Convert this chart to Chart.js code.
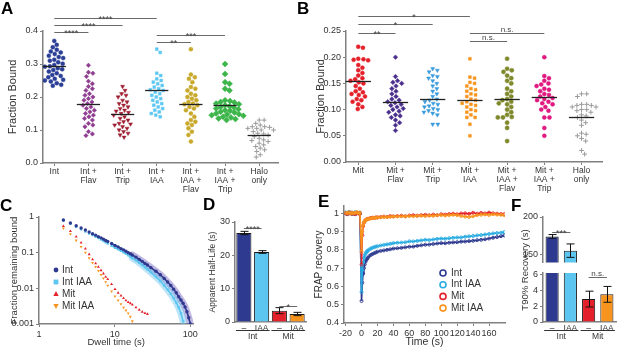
<!DOCTYPE html>
<html><head><meta charset="utf-8">
<script src="https://cdn.jsdelivr.net/npm/chart.js@4/dist/chart.umd.min.js"></script>
<style>
body{margin:0;background:#fff;}
#fig{position:relative;width:617px;height:348px;overflow:hidden;font-family:'Liberation Sans',Arial,sans-serif;}
canvas{position:absolute;}
.lab{position:absolute;font-weight:bold;font-size:17px;color:#000;line-height:17px;}
.ytit{position:absolute;width:110px;height:12px;line-height:12px;text-align:center;font-size:9.5px;color:#333;transform:rotate(-90deg);}
</style></head><body>
<div id="fig">
<canvas id="cA" width="300" height="200" style="left:0;top:0"></canvas>
<canvas id="cB" width="317" height="200" style="left:300px;top:0"></canvas>
<canvas id="cC" width="200" height="153" style="left:0;top:195px"></canvas>
<canvas id="cD" width="110" height="153" style="left:200px;top:195px"></canvas>
<canvas id="cE" width="200" height="153" style="left:310px;top:195px"></canvas>
<canvas id="cF1" width="112" height="75" style="left:505px;top:195px"></canvas>
<canvas id="cF2" width="112" height="83" style="left:505px;top:265px"></canvas>
<div class="lab" style="left:1px;top:0px">A</div>
<div class="lab" style="left:297px;top:0px">B</div>
<div class="lab" style="left:0px;top:197px">C</div>
<div class="lab" style="left:203px;top:196px">D</div>
<div class="lab" style="left:318px;top:193px">E</div>
<div class="lab" style="left:511px;top:197px">F</div>
<div class="ytit" style="left:470px;top:264px">T90% Recovery (s)</div>
</div>
<script>
// ---- panel A : fraction bound, Int ----
const catsA = ['Int', ['Int +','Flav'], ['Int +','Trip'], ['Int +','IAA'], ['Int +','IAA +','Flav'], ['Int +','IAA +','Trip'], ['Halo','only']];
const aInt = [0.37,0.358,0.351,0.343,0.338,0.335,0.33,0.325,0.321,0.318,0.313,0.31,0.305,0.301,0.297,0.293,0.292,0.287,0.284,0.282,0.277,0.272,0.267,0.264,0.26,0.255,0.252,0.25,0.247,0.242,0.237,0.234];
const aFlav = [0.296,0.275,0.272,0.262,0.248,0.24,0.232,0.225,0.22,0.21,0.205,0.2,0.195,0.19,0.185,0.18,0.175,0.17,0.165,0.16,0.155,0.15,0.145,0.14,0.135,0.13,0.12,0.115,0.11,0.095,0.088,0.083];
const aTrip = [0.232,0.22,0.21,0.205,0.2,0.19,0.185,0.18,0.175,0.17,0.165,0.16,0.157,0.153,0.15,0.145,0.14,0.135,0.13,0.125,0.12,0.118,0.115,0.11,0.105,0.1,0.095,0.09,0.085,0.078];
const aIAA = [0.345,0.335,0.272,0.265,0.255,0.25,0.245,0.24,0.235,0.23,0.225,0.222,0.22,0.215,0.21,0.205,0.2,0.195,0.19,0.185,0.18,0.175,0.17,0.165,0.16,0.155,0.15,0.145,0.14];
const aIAAFlav = [0.345,0.268,0.26,0.255,0.245,0.23,0.225,0.22,0.21,0.205,0.2,0.195,0.19,0.185,0.18,0.178,0.175,0.17,0.165,0.16,0.15,0.14,0.13,0.125,0.12,0.115,0.105,0.095,0.085,0.065];
const aIAATrip = [0.30,0.27,0.245,0.24,0.225,0.22,0.19,0.188,0.185,0.183,0.18,0.178,0.175,0.172,0.17,0.168,0.165,0.163,0.16,0.158,0.155,0.153,0.15,0.148,0.147,0.145,0.143,0.14,0.138,0.135,0.133,0.13];
const aHalo = [0.13,0.13,0.12,0.115,0.11,0.11,0.108,0.105,0.105,0.1,0.1,0.095,0.09,0.088,0.085,0.08,0.075,0.07,0.068,0.065,0.06,0.055,0.05,0.045,0.04,0.035,0.025,0.018];
const meansA = [0.293,0.18,0.15,0.22,0.18,0.175,0.086];
const sigA = [[0,3,'****'],[0,2,'****'],[0,1,'****'],[3,5,'***'],[3,4,'**']];

// ---- panel B : fraction bound, Mit ----
const catsB = ['Mit', ['Mit +','Flav'], ['Mit +','Trip'], ['Mit +','IAA'], ['Mit +','IAA +','Flav'], ['Mit +','IAA +','Trip'], ['Halo','only']];
const bMit = [0.22,0.218,0.197,0.196,0.195,0.194,0.185,0.18,0.175,0.17,0.165,0.16,0.158,0.155,0.152,0.15,0.145,0.14,0.135,0.133,0.13,0.128,0.125,0.12,0.118,0.115,0.11,0.105,0.101];
const bFlav = [0.20,0.163,0.155,0.152,0.15,0.145,0.14,0.135,0.13,0.125,0.12,0.118,0.115,0.113,0.11,0.108,0.105,0.102,0.1,0.097,0.095,0.09,0.088,0.085,0.08,0.075,0.07,0.06];
const bTrip = [0.178,0.175,0.172,0.165,0.163,0.16,0.155,0.15,0.145,0.14,0.135,0.13,0.125,0.12,0.118,0.115,0.112,0.11,0.107,0.105,0.102,0.1,0.098,0.095,0.093,0.09,0.072,0.072];
const bIAA = [0.197,0.162,0.16,0.152,0.15,0.145,0.14,0.138,0.135,0.13,0.128,0.125,0.12,0.118,0.115,0.112,0.11,0.108,0.105,0.1,0.098,0.095,0.09,0.085,0.085,0.072,0.05];
const bIAAFlav = [0.197,0.178,0.175,0.172,0.165,0.16,0.155,0.15,0.14,0.135,0.13,0.125,0.12,0.118,0.115,0.112,0.11,0.105,0.1,0.095,0.09,0.086,0.085,0.085,0.075,0.065,0.04];
const bIAATrip = [0.20,0.164,0.16,0.155,0.15,0.148,0.145,0.14,0.138,0.135,0.13,0.128,0.125,0.122,0.12,0.118,0.115,0.112,0.11,0.105,0.1,0.098,0.085,0.085,0.065,0.05];
const bHalo = [0.13,0.13,0.125,0.11,0.11,0.108,0.108,0.105,0.105,0.1,0.1,0.098,0.095,0.09,0.088,0.085,0.08,0.075,0.07,0.055,0.053,0.05,0.045,0.04,0.022,0.015];
const meansB = [0.154,0.115,0.121,0.118,0.121,0.125,0.085];
const sigB = [[0,3,'*'],[0,2,'*'],[0,1,'**'],[3,5,'n.s.'],[3,4,'n.s.']];

// ---- panel C : survival curves ----
const tC = [2.1,2.6,3.1,3.6,4.1,4.6,5.1,5.6,6.1,6.6,7.1,7.6,8.1,9.1,10.1,11.1,12.1,13.1,14.1,15.1,16.1,17.1,19.1,21.1,23.1,25.1,27.1,30.1,35.1,40.1,45.1,50.1,55.1,60.1,65.1,70.1,75.1,80.1,85.1,90.1,95.1,100.1];
const cInt = [0.82,0.68,0.57,0.49,0.43,0.38,0.34,0.31,0.28,0.26,0.24,0.22,0.205,0.18,0.16,0.145,0.13,0.12,0.11,0.1,0.093,0.086,0.075,0.065,0.057,0.05,0.045,0.038,0.03,0.024,0.019,0.015,0.012,0.0095,0.0075,0.0058,0.0047,0.0038,0.003,0.0022,0.0015,0.001];
const cIntIAA = [0.78,0.64,0.53,0.45,0.39,0.345,0.31,0.28,0.255,0.232,0.212,0.195,0.18,0.157,0.138,0.124,0.112,0.102,0.093,0.085,0.078,0.071,0.061,0.052,0.045,0.039,0.034,0.028,0.021,0.016,0.012,0.0092,0.007,0.0053,0.004,0.0029,0.002,0.0012];
const cMit = [0.55,0.40,0.28,0.19,0.13,0.09,0.065,0.05,0.04,0.032,0.026,0.021,0.018,0.013,0.0095,0.0075,0.0062,0.0053,0.0046,0.0041,0.0038,0.0035,0.0029,0.0025,0.0022,0.002,0.0019];
const cMitIAA = [0.48,0.33,0.22,0.145,0.1,0.07,0.052,0.04,0.031,0.024,0.019,0.015,0.012,0.0082,0.006,0.0046,0.0036,0.0029,0.0024,0.002,0.0016,0.0012];

// ---- panel D : apparent half-life ----
const dLabels = ['\u2013','IAA','\u2013','IAA'];
const dVals = [26.7,21.0,3.4,2.4];
const dErr = [0.5,0.4,0.9,0.5];

// ---- panel E : FRAP ----
const tE = [-20,-18,-16,-14,-12,-10,-8,-6,-4,-2,0,1,2,3,4,5,6,7,8,10,12,14,16,18,20,24,28,32,36,40,45,50,55,60,65,70,75,80,85,90,95,100,105,110,115,120,125,130,135,140,145,150,155,160,165,170,175,179];
const eInt = [1.0,0.995,1.0,1.003,0.997,1.0,0.995,1.002,1.0,0.997,0.52,0.62,0.67,0.70,0.72,0.735,0.745,0.752,0.757,0.767,0.773,0.778,0.782,0.786,0.79,0.794,0.797,0.80,0.803,0.807,0.809,0.811,0.814,0.817,0.818,0.822,0.825,0.828,0.829,0.832,0.835,0.837,0.836,0.839,0.841,0.842,0.845,0.846,0.848,0.85,0.853,0.855,0.858,0.862,0.866,0.87,0.875,0.879];
const eIntIAA = [1.005,1.0,1.008,1.0,1.004,0.998,1.006,1.002,1.0,1.004,0.57,0.69,0.73,0.755,0.77,0.78,0.787,0.792,0.797,0.803,0.808,0.812,0.815,0.818,0.82,0.824,0.827,0.83,0.833,0.837,0.839,0.84,0.842,0.847,0.846,0.849,0.852,0.855,0.854,0.857,0.86,0.862,0.861,0.864,0.866,0.868,0.868,0.872,0.874,0.876,0.879,0.881,0.884,0.887,0.89,0.892,0.894,0.897];
const eMit = [1.0,0.997,1.0,1.003,0.998,1.0,0.996,1.0,1.002,0.998,0.72,0.88,0.93,0.948,0.956,0.962,0.966,0.968,0.97,0.972,0.974,0.976,0.975,0.977,0.978,0.98,0.982,0.98,0.985,0.983,0.985,0.987,0.984,0.988,0.99,0.987,0.99,0.992,0.989,0.993,0.99,0.995,0.993,0.996,0.998,0.995,0.999,1.0,0.997,1.003,0.998,1.002,0.999,1.004,1.0,0.998,0.996,0.995];
const eMitIAA = [1.003,1.0,1.006,0.998,1.004,1.0,1.002,1.007,0.999,1.004,0.79,0.90,0.935,0.95,0.957,0.962,0.965,0.967,0.969,0.971,0.972,0.974,0.975,0.976,0.977,0.978,0.98,0.979,0.981,0.982,0.983,0.984,0.983,0.985,0.984,0.986,0.987,0.985,0.988,0.986,0.989,0.99,0.988,0.99,0.992,0.99,0.985,0.982,0.98,0.984,0.99,0.992,0.994,0.991,0.995,0.993,0.992,0.99];

// ---- panel F : T90 recovery ----
const fLabels = ['\u2013','IAA','\u2013','IAA'];
const fVals = [174,155,2.9,3.5];
const fErr = [2.5,9,1.0,1.0];

const FONT = "'Liberation Sans', Arial, sans-serif";
const AX = '#808080', TX = '#333';
const NAVY = '#2e3a8f', SKY = '#5cc6f0', RED = '#e4212a', ORANGE = '#f7941d';
Chart.defaults.font.family = FONT;
Chart.defaults.color = TX;

function axis(kind, size, o) {
  const base = {
    grid: {drawOnChartArea:false, drawTicks:true, tickLength:3, color:AX, lineWidth:1},
    border: {display:true, color:AX, width:1.5},
    ticks: {color:TX, font:{size:9}, padding:2, autoSkip:false, maxRotation:0}
  };
  const s = Object.assign({}, base, o);
  s.ticks = Object.assign({}, base.ticks, o.ticks || {});
  s.grid = Object.assign({}, base.grid, o.grid || {});
  if (o.display !== false)
    s.afterFit = kind === 'y' ? (sc => { sc.width = size; }) : (sc => { sc.height = size; });
  return s;
}
function fixTicks(vals) { return sc => { sc.ticks = vals.map(v => ({value:v})); }; }

// spread dots of one column so they do not overlap
function swarm(vals, pxY, d) {
  const placed = [], offs = new Array(vals.length);
  const order = vals.map((v, i) => i).sort((a, b) => vals[b] - vals[a]);
  for (const i of order) {
    const y = vals[i] * pxY;
    for (let k = 0; k < 400; k++) {
      const x = (k % 2 ? 1 : -1) * Math.ceil(k / 2) * 0.5;
      if (placed.every(p => (x - p.x) ** 2 + (y - p.y) ** 2 >= d * d)) {
        placed.push({x, y}); offs[i] = x; break;
      }
    }
  }
  return offs;
}

// mean lines
const meanPlugin = {
  id: 'means',
  afterDatasetsDraw(chart, args, o) {
    if (!o.values) return;
    const {ctx, scales:{x, y}} = chart;
    ctx.save(); ctx.strokeStyle = '#222'; ctx.lineWidth = 1.3;
    o.values.forEach((m, i) => {
      const yy = Math.round(y.getPixelForValue(m)) + 0.5;
      ctx.beginPath(); ctx.moveTo(x.getPixelForValue(i - o.half), yy); ctx.lineTo(x.getPixelForValue(i + o.half), yy); ctx.stroke();
    });
    ctx.restore();
  }
};
// significance brackets
const sigPlugin = {
  id: 'sig',
  afterDraw(chart, args, o) {
    if (!o.bars) return;
    const {ctx, scales:{x}} = chart;
    ctx.save(); ctx.strokeStyle = '#6a6a6a'; ctx.fillStyle = '#444'; ctx.lineWidth = 1;
    ctx.textAlign = 'center'; ctx.textBaseline = 'alphabetic';
    o.bars.forEach((b, i) => {
      const yy = o.levels[i] + 0.5, x0 = x.getPixelForValue(b[0]), x1 = x.getPixelForValue(b[1]);
      ctx.beginPath(); ctx.moveTo(x0, yy); ctx.lineTo(x1, yy); ctx.stroke();
      const star = b[2].indexOf('*') === 0;
      ctx.font = (star ? '9px ' : '8px ') + FONT;
      ctx.fillText(b[2], (x0 + x1) / 2, star ? yy + 3.5 : yy - 2);
    });
    ctx.restore();
  }
};
// error bars for bar charts
const errPlugin = {
  id: 'err',
  afterDatasetsDraw(chart, args, o) {
    if (!o.values) return;
    const {ctx, chartArea:a, scales:{y}} = chart;
    const meta = chart.getDatasetMeta(0), vals = chart.data.datasets[0].data;
    ctx.save(); ctx.beginPath(); ctx.rect(a.left, a.top, a.right - a.left, a.bottom - a.top); ctx.clip();
    ctx.strokeStyle = '#111'; ctx.lineWidth = 1;
    meta.data.forEach((bar, i) => {
      const e = o.values[i], y0 = y.getPixelForValue(vals[i] - e), y1 = y.getPixelForValue(vals[i] + e), cx = Math.round(bar.x) + 0.5;
      ctx.beginPath();
      ctx.moveTo(cx, y0); ctx.lineTo(cx, y1);
      ctx.moveTo(cx - 4, y0); ctx.lineTo(cx + 4, y0);
      ctx.moveTo(cx - 4, y1); ctx.lineTo(cx + 4, y1);
      ctx.stroke();
    });
    ctx.restore();
  }
};
// group labels under the x axis (Int / Mit)
const groupPlugin = {
  id: 'groups',
  afterDraw(chart, args, o) {
    if (!o.groups) return;
    const {ctx, scales:{x}} = chart;
    ctx.save(); ctx.strokeStyle = '#333'; ctx.fillStyle = TX; ctx.lineWidth = 1;
    ctx.font = '8.5px ' + FONT; ctx.textAlign = 'center'; ctx.textBaseline = 'middle';
    o.groups.forEach(g => {
      const x0 = x.getPixelForValue(g[0]) - o.ext, x1 = x.getPixelForValue(g[1]) + o.ext;
      ctx.beginPath(); ctx.moveTo(x0, o.y + 0.5); ctx.lineTo(x1, o.y + 0.5); ctx.stroke();
      ctx.fillText(g[2], (x0 + x1) / 2, o.y + 7);
    });
    ctx.restore();
  }
};
function marker(ctx, style, x, y, r) {
  ctx.beginPath();
  if (style === 'circle') ctx.arc(x, y, r, 0, Math.PI * 2);
  else if (style === 'rect') ctx.rect(x - r, y - r, 2 * r, 2 * r);
  else if (style === 'tri') { ctx.moveTo(x, y - r * 1.2); ctx.lineTo(x + r * 1.1, y + r * 0.8); ctx.lineTo(x - r * 1.1, y + r * 0.8); ctx.closePath(); }
  else { ctx.moveTo(x, y + r * 1.2); ctx.lineTo(x + r * 1.1, y - r * 0.8); ctx.lineTo(x - r * 1.1, y - r * 0.8); ctx.closePath(); }
}
// legend drawn inside the plot
const boxLegend = {
  id: 'boxLegend',
  afterDraw(chart, args, o) {
    if (!o.items) return;
    const ctx = chart.ctx;
    ctx.save(); ctx.font = '10px ' + FONT; ctx.textBaseline = 'middle';
    o.items.forEach((it, i) => {
      const y = o.y + i * o.dy;
      marker(ctx, it[2], o.x, y, o.r);
      if (o.open) { ctx.strokeStyle = it[1]; ctx.lineWidth = 1.6; ctx.stroke(); }
      else { ctx.fillStyle = it[1]; ctx.fill(); }
      ctx.fillStyle = TX; ctx.fillText(it[0], o.x + o.gap, y);
    });
    ctx.restore();
  }
};
Chart.register(meanPlugin, sigPlugin, errPlugin, groupPlugin, boxLegend);

function dotPanel(id, cats, series, styles, means, sig, levels, o) {
  const datasets = series.map((vals, i) => {
    const offs = swarm(vals, o.pxY, o.d);
    const s = styles[i];
    return {
      data: vals.map((v, j) => ({x: i + offs[j] / o.pxX, y: v})),
      pointStyle: s.p, pointRadius: s.r, pointRotation: s.rot || 0,
      backgroundColor: s.c, borderColor: s.c, borderWidth: s.bw || 0.5
    };
  });
  new Chart(document.getElementById(id), {
    type: 'scatter',
    data: {datasets},
    options: {
      responsive: false, animation: false,
      layout: {padding: o.pad},
      plugins: {legend: {display: false}, tooltip: {enabled: false},
        means: {values: means, half: o.half}, sig: {bars: sig, levels}},
      scales: {
        x: axis('x', o.xH, {type: 'linear', min: -0.33, max: 6.55, afterBuildTicks: fixTicks(cats.map((c, i) => i)),
          ticks: {callback: v => cats[Math.round(v)], font: {size: 8.5, lineHeight: 1.05}, padding: 1}}),
        y: axis('y', o.yW, {type: 'linear', min: 0, max: o.ymax, afterBuildTicks: fixTicks(o.yt),
          ticks: {callback: v => v.toFixed(o.dec), font: {size: 9}},
          title: {display: true, text: 'Fraction Bound', font: {size: 11}, color: TX, padding: {top: o.tpad, bottom: 0}}})
      }
    }
  });
}

dotPanel('cA', catsA, [aInt, aFlav, aTrip, aIAA, aIAAFlav, aIAATrip, aHalo], [
  {p: 'circle', r: 2, c: '#2b3f96'}, {p: 'rectRot', r: 2.2, c: '#8e3d90'}, {p: 'triangle', r: 2.3, rot: 180, c: '#9e1f32'},
  {p: 'rect', r: 2, c: '#5cc7f2'}, {p: 'circle', r: 2, c: '#c9a92c'}, {p: 'rectRot', r: 3, c: '#3cb54a'},
  {p: 'cross', r: 2.4, c: '#9a9a9a', bw: 1}
], meansA, sigA, [18, 25, 32, 35, 42],
  {pxY: 330, pxX: 34.5, d: 4.6, half: 0.34, xH: 37, yW: 43, ymax: 0.4, yt: [0, 0.1, 0.2, 0.3, 0.4], dec: 1, tpad: 6,
   pad: {top: 31, left: 0, right: 22, bottom: 0}});

dotPanel('cB', catsB, [bMit, bFlav, bTrip, bIAA, bIAAFlav, bIAATrip, bHalo], [
  {p: 'circle', r: 2, c: '#e4212a'}, {p: 'rectRot', r: 2.3, c: '#4b2f8c'}, {p: 'triangle', r: 2.3, rot: 180, c: '#3a9bdc'},
  {p: 'rect', r: 2, c: '#f7941d'}, {p: 'circle', r: 2.1, c: '#808a2c'}, {p: 'circle', r: 2, c: '#e0187f'},
  {p: 'cross', r: 2.4, c: '#9a9a9a', bw: 1}
], meansB, sigB, [16, 24, 33, 33, 41],
  {pxY: 526, pxX: 36, d: 4.6, half: 0.34, xH: 38, yW: 46, ymax: 0.25, yt: [0, 0.05, 0.1, 0.15, 0.2, 0.25], dec: 2, tpad: 14,
   pad: {top: 31, left: 0, right: 15, bottom: 0}});

// panel C
function pts(t, v) { return v.map((y, i) => ({x: t[i], y})); }
function curve(vals, color, style, rot, lineFrom, ord) {
  return {data: pts(tC, vals), showLine: true, borderColor: color, backgroundColor: color, borderWidth: 1.6,
    pointStyle: style, pointRadius: 1.7, pointRotation: rot, pointBorderWidth: 0, order: ord,
    segment: {borderColor: c => c.p0.parsed.x < lineFrom ? 'rgba(0,0,0,0)' : color}};
}
function band(vals, color, from, ord) {
  return {data: pts(tC, vals), showLine: true, borderColor: color, borderWidth: 7, pointRadius: 0, order: ord,
    borderCapStyle: 'round', segment: {borderColor: c => c.p0.parsed.x < from ? 'rgba(0,0,0,0)' : color}};
}
new Chart(document.getElementById('cC'), {
  type: 'scatter',
  data: {datasets: [
    band(cInt, 'rgba(120,100,190,0.45)', 17, 6),
    band(cIntIAA, 'rgba(110,195,240,0.45)', 17, 5),
    curve(cInt, NAVY, 'circle', 0, 9, 2),
    curve(cIntIAA, SKY, 'rect', 0, 9, 3),
    curve(cMit, RED, 'triangle', 0, 99, 1),
    curve(cMitIAA, ORANGE, 'triangle', 180, 99, 0)
  ]},
  options: {
    responsive: false, animation: false,
    layout: {padding: {top: 22, left: 0, right: 6, bottom: 0}},
    plugins: {legend: {display: false}, tooltip: {enabled: false},
      boxLegend: {items: [['Int', NAVY, 'circle'], ['Int IAA', SKY, 'rect'], ['Mit', RED, 'tri'], ['Mit IAA', ORANGE, 'itri']],
        x: 56, y: 75, dy: 12, r: 2.4, gap: 6}},
    scales: {
      x: axis('x', 24, {type: 'logarithmic', min: 1, max: 110, afterBuildTicks: fixTicks([1, 10, 100]),
        ticks: {callback: v => String(v), font: {size: 9}},
        title: {display: true, text: 'Dwell time (s)', font: {size: 9.5}, color: TX, padding: {top: 0, bottom: 0}}}),
      y: axis('y', 39, {type: 'logarithmic', min: 0.001, max: 1, afterBuildTicks: fixTicks([0.001, 0.01, 0.1, 1]),
        ticks: {callback: v => String(v), font: {size: 9}},
        title: {display: true, text: 'Fraction remaining bound', font: {size: 9.5}, color: TX, padding: {top: 9, bottom: 0}}})
    }
  }
});

// panel D
new Chart(document.getElementById('cD'), {
  type: 'bar',
  data: {labels: dLabels, datasets: [{data: dVals, backgroundColor: [NAVY, SKY, RED, ORANGE], borderColor: '#1a1a1a',
    borderWidth: 1, barPercentage: 0.85, categoryPercentage: 1, clip: 0}]},
  options: {
    responsive: false, animation: false,
    layout: {padding: {top: 27, left: 0, right: 4, bottom: 0}},
    plugins: {legend: {display: false}, tooltip: {enabled: false}, err: {values: dErr},
      sig: {bars: [[0, 1, '****'], [2, 3, '*']], levels: [33, 111]},
      groups: {groups: [[0, 1, 'Int'], [2, 3, 'Mit']], y: 135, ext: 8}},
    scales: {
      x: axis('x', 26, {grid: {drawTicks: false, offset: false}, ticks: {font: {size: 8.5}, padding: 2}}),
      y: axis('y', 35, {min: 0, max: 30, ticks: {stepSize: 10, font: {size: 9}},
        title: {display: true, text: 'Apparent Half-Life (s)', font: {size: 8.5}, color: TX, padding: {top: 8, bottom: 0}}})
    }
  }
});

// panel E
function frap(vals, color, ord) {
  return {data: pts(tE, vals), showLine: true, borderColor: color, borderWidth: 1.6, pointRadius: 1.5,
    pointBackgroundColor: 'rgba(0,0,0,0)', pointBorderColor: color, pointBorderWidth: 0.9, order: ord};
}
new Chart(document.getElementById('cE'), {
  type: 'scatter',
  data: {datasets: [frap(eInt, NAVY, 3), frap(eIntIAA, '#27aae1', 2), frap(eMit, RED, 1), frap(eMitIAA, ORANGE, 0)]},
  options: {
    responsive: false, animation: false,
    layout: {padding: {top: 11, left: 0, right: 5, bottom: 0}},
    plugins: {legend: {display: false}, tooltip: {enabled: false},
      boxLegend: {items: [['Int', NAVY, 'circle'], ['Int IAA', '#27aae1', 'circle'], ['Mit', RED, 'circle'], ['Mit IAA', ORANGE, 'circle']],
        x: 133, y: 78, dy: 11.7, r: 3, gap: 8, open: true}},
    scales: {
      x: axis('x', 25, {type: 'linear', min: -22, max: 180, afterBuildTicks: fixTicks([-20, 0, 20, 40, 60, 80, 100, 120, 140, 160]),
        ticks: {font: {size: 9}},
        title: {display: true, text: 'Time (s)', font: {size: 10.5}, color: TX, padding: {top: 0, bottom: 0}}}),
      y: axis('y', 34, {type: 'linear', min: 0.4, max: 1.04, afterBuildTicks: fixTicks([0.4, 0.5, 0.6, 0.7, 0.8, 0.9, 1]),
        ticks: {callback: v => v === 1 ? '1' : v.toFixed(1), font: {size: 9}},
        title: {display: true, text: 'FRAP recovery', font: {size: 10}, color: TX, padding: {top: 3, bottom: 0}}})
    }
  }
});

// panel F, broken axis as two stacked charts
function fPanel(id, ymin, ymax, yt, pad, showX, sig) {
  new Chart(document.getElementById(id), {
    type: 'bar',
    data: {labels: fLabels, datasets: [{data: fVals, backgroundColor: [NAVY, SKY, RED, ORANGE], borderColor: '#1a1a1a',
      borderWidth: 1, barPercentage: 0.72, categoryPercentage: 1, clip: 0}]},
    options: {
      responsive: false, animation: false,
      layout: {padding: pad},
      plugins: {legend: {display: false}, tooltip: {enabled: false}, err: {values: fErr}, sig,
        groups: showX ? {groups: [[0, 1, 'Int'], [2, 3, 'Mit']], y: 65, ext: 8} : {}},
      scales: {
        x: axis('x', 26, {display: showX, grid: {drawTicks: false, offset: false}, ticks: {font: {size: 8.5}, padding: 2}}),
        y: axis('y', 38, {min: ymin, max: ymax, afterBuildTicks: fixTicks(yt), ticks: {font: {size: 9}}})
      }
    }
  });
}
fPanel('cF1', 139, 200, [150, 200], {top: 22, left: 0, right: 1, bottom: 4}, false, {bars: [[0, 1, '***']], levels: [37]});
fPanel('cF2', 0, 6.2, [0, 2, 4, 6], {top: 8, left: 0, right: 1, bottom: 0}, true, {bars: [[2, 3, 'n.s.']], levels: [12]});
</script>
</body></html>
